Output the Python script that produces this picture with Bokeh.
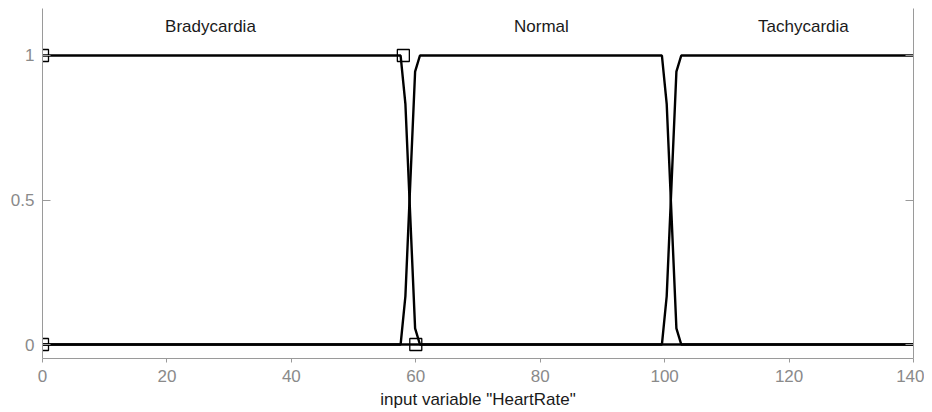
from bokeh.plotting import figure
from bokeh.models import Range1d, LinearAxis, FixedTicker, ColumnDataSource
from bokeh.core.properties import value
from bokeh.embed import file_html
from bokeh.resources import INLINE

# Membership functions of input variable "HeartRate"
brady_x = [0, 57.56, 58.33, 59.11, 59.89, 60.67, 140]
brady_y = [1, 1, 0.833, 0.444, 0.056, 0, 0]

normal_x = [0, 57.56, 58.33, 59.11, 59.89, 60.67, 99.56, 100.33, 101.11, 101.89, 102.67, 140]
normal_y = [0, 0, 0.167, 0.556, 0.944, 1, 1, 0.833, 0.444, 0.056, 0, 0]

tachy_x = [0, 99.56, 100.33, 101.11, 101.89, 102.67, 140]
tachy_y = [0, 0, 0.167, 0.556, 0.944, 1, 1]

# Vertices of the selected MF (Bradycardia), shown as squares
vert_x = [0, 0, 58, 60]
vert_y = [0, 1, 1, 0]

mf_names = ["Bradycardia", "Normal", "Tachycardia"]
mf_label_x = [27, 80.2, 122.3]
mf_label_y = [1.1, 1.1, 1.1]

x_ticks = [0, 20, 40, 60, 80, 100, 120, 140]
y_ticks = [0, 0.5, 1]
y_tick_labels = {0: "0", 0.5: "0.5", 1: "1"}
x_label = 'input variable "HeartRate"'

FONT = "Liberation Sans"
AXIS_GRAY = "#9a9a9a"
LABEL_GRAY = "#8a8a8a"

p = figure(width=924, height=411, output_backend="svg", toolbar_location=None,
           x_range=Range1d(0, 140), y_range=Range1d(-0.0484, 1.1626),
           min_border_left=42, min_border_right=11, min_border_top=8, min_border_bottom=53)
p.outline_line_color = None
p.background_fill_color = "white"
p.border_fill_color = "white"
p.xgrid.visible = False
p.ygrid.visible = False

for xs, ys in [(brady_x, brady_y), (normal_x, normal_y), (tachy_x, tachy_y)]:
    p.line(xs, ys, line_color="black", line_width=2.4)

p.scatter(vert_x, vert_y, marker="square", size=12, fill_color=None,
          line_color="black", line_width=1.3)

src = ColumnDataSource(dict(x=mf_label_x, y=mf_label_y, t=mf_names))
p.text(x="x", y="y", text="t", source=src, text_align="center", text_baseline="middle",
       text_font=value(FONT), text_font_size="17px", text_color="#1a1a1a")

# x axis
xa = p.xaxis[0]
xa.ticker = FixedTicker(ticks=x_ticks)
xa.axis_line_color = AXIS_GRAY
xa.major_tick_line_color = AXIS_GRAY
xa.major_tick_in = 0
xa.major_tick_out = 4
xa.minor_tick_line_color = None
xa.major_label_text_font = FONT
xa.major_label_text_font_size = "17px"
xa.major_label_text_color = LABEL_GRAY
xa.major_label_standoff = 7
xa.axis_label = x_label
xa.axis_label_text_font = FONT
xa.axis_label_text_font_size = "17px"
xa.axis_label_text_font_style = "normal"
xa.axis_label_text_color = "#1a1a1a"
xa.axis_label_standoff = 5

# y axis
ya = p.yaxis[0]
ya.ticker = FixedTicker(ticks=y_ticks)
ya.major_label_overrides = y_tick_labels
ya.axis_line_color = AXIS_GRAY
ya.major_tick_line_color = AXIS_GRAY
ya.major_tick_in = 8
ya.major_tick_out = 0
ya.minor_tick_line_color = None
ya.major_label_text_font = FONT
ya.major_label_text_font_size = "17px"
ya.major_label_text_color = LABEL_GRAY
ya.major_label_standoff = 8

# right box edge with inward ticks
ra = LinearAxis(ticker=FixedTicker(ticks=y_ticks))
ra.axis_line_color = AXIS_GRAY
ra.major_tick_line_color = AXIS_GRAY
ra.major_tick_in = 8
ra.major_tick_out = 0
ra.minor_tick_line_color = None
ra.major_label_text_font_size = "0px"
ra.major_label_text_color = None
ra.major_label_standoff = 0
p.add_layout(ra, "right")

open("out.html", "w").write(file_html(p, INLINE))
